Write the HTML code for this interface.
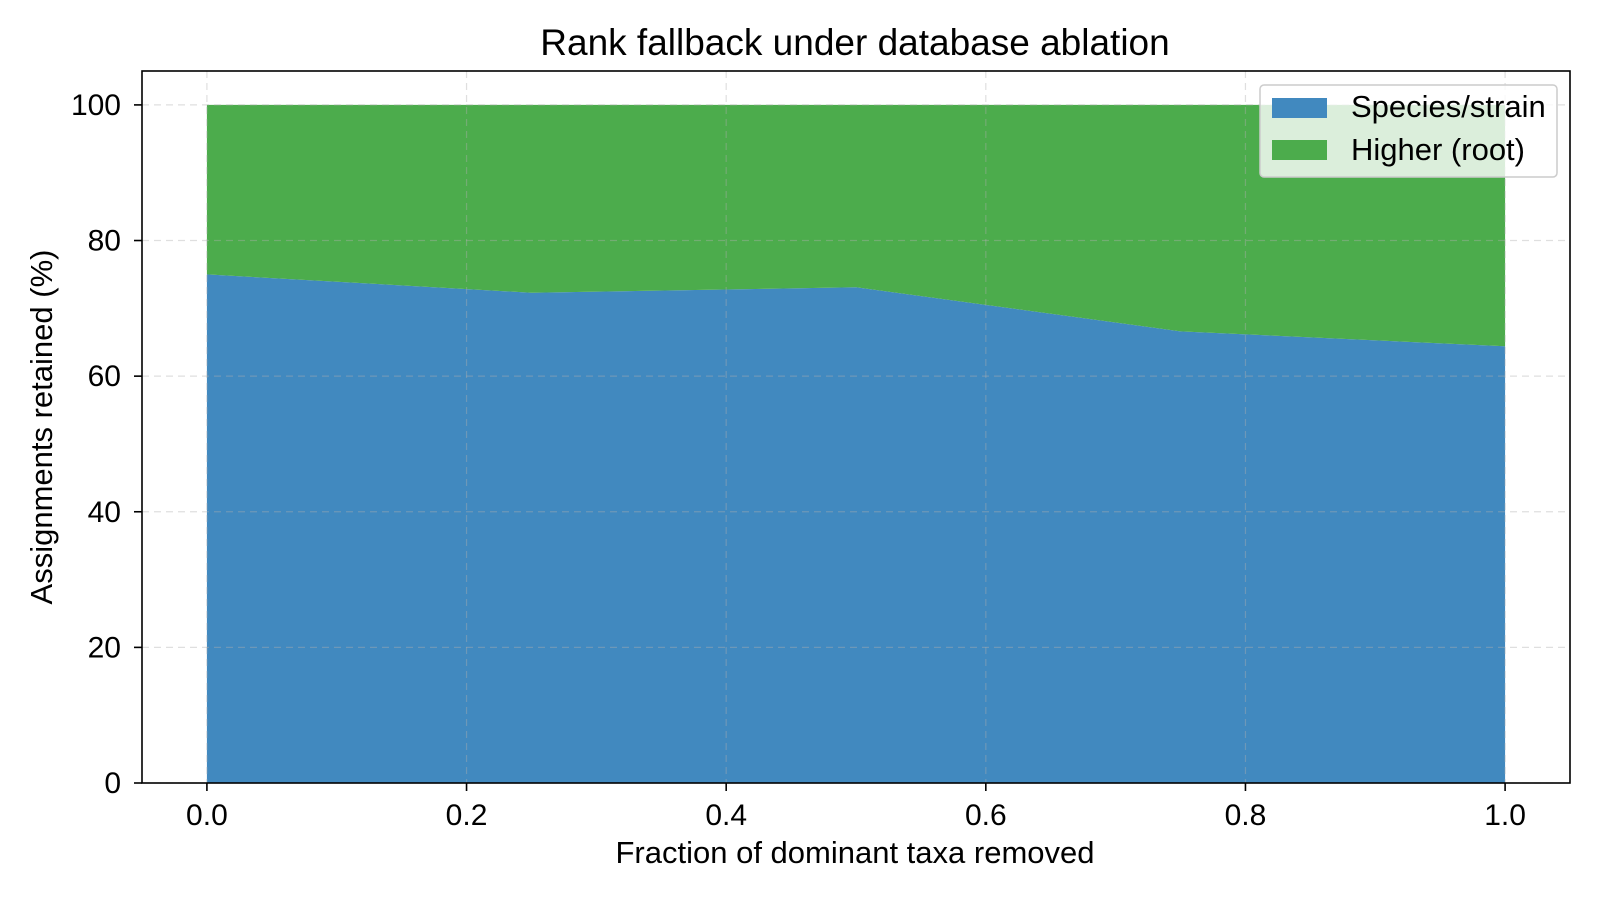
<!DOCTYPE html>
<html><head><meta charset="utf-8"><style>
body{margin:0;background:#fff;}
svg{display:block;font-family:"Liberation Sans","DejaVu Sans",sans-serif;}
</style></head><body>
<svg id="chart" width="1600" height="900" viewBox="0 0 1600 900">
<rect width="1600" height="900" fill="#fff"/>
<text x="855" y="55" font-size="37" text-anchor="middle">Rank fallback under database ablation</text>
<g id="areas"></g>
<g id="grid"></g>
<g id="ticks"></g>
<rect x="142" y="71" width="1428" height="712" fill="none" stroke="#000" stroke-width="1.6"/>
<text x="855" y="863" font-size="31" text-anchor="middle">Fraction of dominant taxa removed</text>
<text transform="translate(52,427) rotate(-90)" font-size="31" text-anchor="middle">Assignments retained (%)</text>
<g>
<rect x="1260" y="85" width="297" height="92" rx="4" fill="#fff" fill-opacity="0.8" stroke="#ccc" stroke-width="1.5"/>
<rect x="1272" y="98" width="55" height="20" fill="#4189bf"/>
<text x="1351" y="117" font-size="31">Species/strain</text>
<rect x="1272" y="140" width="55" height="20" fill="#4cac4c"/>
<text x="1351" y="160" font-size="31">Higher (root)</text>
</g>
</svg>
<script>
const fractions = [0, 0.25, 0.5, 0.75, 1.0];
const speciesPct = [75.0, 72.3, 73.1, 66.6, 64.4];
const higherPct = [25.0, 27.7, 26.9, 33.4, 35.6];
const xTickLabels = ["0.0","0.2","0.4","0.6","0.8","1.0"];
const yTickLabels = ["0","20","40","60","80","100"];

const NS = "http://www.w3.org/2000/svg";
const X0 = 142, X1 = 1570, Y0 = 783, Y1 = 71;
const xMin = -0.05, xMax = 1.05, yMin = 0, yMax = 105;
const sx = v => X0 + (v - xMin) / (xMax - xMin) * (X1 - X0);
const sy = v => Y0 - (v - yMin) / (yMax - yMin) * (Y0 - Y1);
function mk(tag, attrs, parent){const e=document.createElementNS(NS,tag);for(const k in attrs)e.setAttribute(k,attrs[k]);parent.appendChild(e);return e;}

const areas = document.getElementById('areas');
let p1 = fractions.map((f,i)=>`${sx(f)},${sy(speciesPct[i])}`);
let base = fractions.map(f=>`${sx(f)},${sy(0)}`).reverse();
const a1 = mk('polygon',{points:p1.concat(base).join(' '),fill:'#4189bf'},areas);


let p2 = fractions.map((f,i)=>`${sx(f)},${sy(speciesPct[i]+higherPct[i])}`);
let low = fractions.map((f,i)=>`${sx(f)},${sy(speciesPct[i])}`).reverse();
const a2 = mk('polygon',{points:p2.concat(low).join(' '),fill:'#4cac4c'},areas);



const grid = document.getElementById('grid');
const ticks = document.getElementById('ticks');
xTickLabels.forEach(t=>{
  const v=parseFloat(t), x=sx(v);
  const g=mk('line',{x1:x,x2:x,y1:Y1,y2:Y0,stroke:'#b0b0b0','stroke-opacity':0.4,'stroke-dasharray':'7,5','stroke-width':1.2},grid);
  
  
  mk('line',{x1:x,x2:x,y1:Y0,y2:Y0+8,stroke:'#000','stroke-width':1.6},ticks);
  const tx=mk('text',{x:x,y:Y0+42,'font-size':30,'text-anchor':'middle'},ticks);
  tx.textContent=t;
  
  
});
yTickLabels.forEach(t=>{
  const v=parseFloat(t), y=sy(v);
  const g=mk('line',{x1:X0,x2:X1,y1:y,y2:y,stroke:'#b0b0b0','stroke-opacity':0.4,'stroke-dasharray':'7,5','stroke-width':1.2},grid);
  
  
  mk('line',{x1:X0-8,x2:X0,y1:y,y2:y,stroke:'#000','stroke-width':1.6},ticks);
  const tx=mk('text',{x:X0-21,y:y+10,'font-size':30,'text-anchor':'end'},ticks);
  tx.textContent=t;
  
  
});
</script>
</body></html>
